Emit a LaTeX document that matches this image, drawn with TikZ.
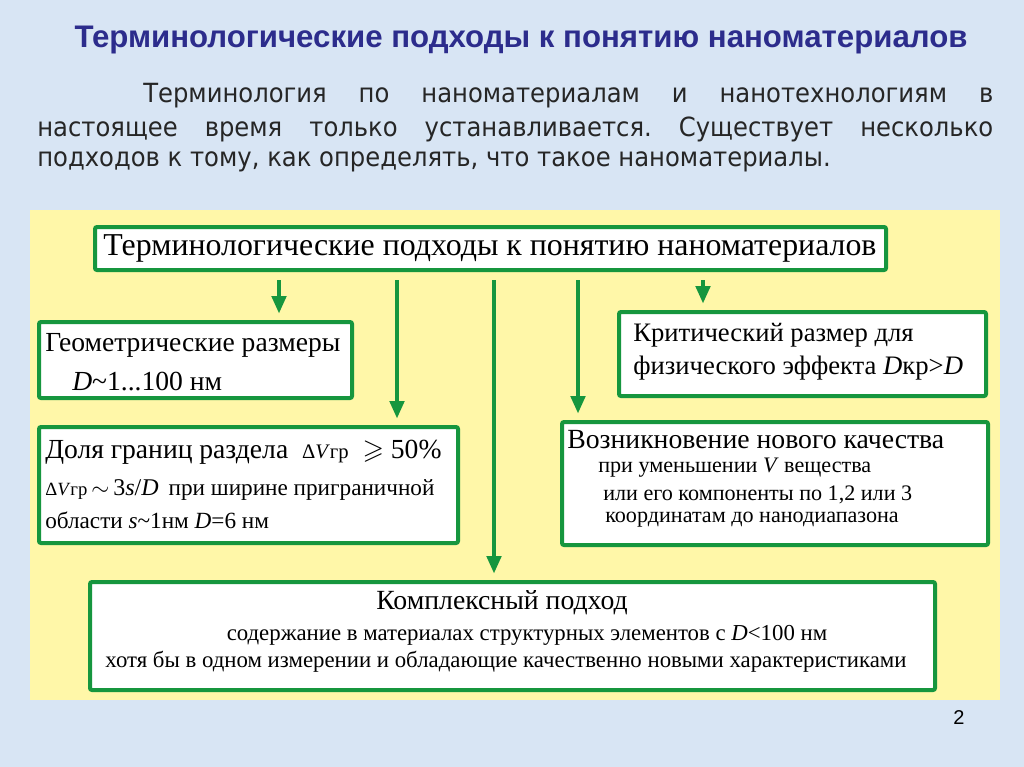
\documentclass[tikz,border=0pt]{standalone}
\usepackage{amssymb}
\usepackage{fontspec}
\setmainfont{Liberation Serif}
\newfontfamily\arialfont{Liberation Sans}
\newfontfamily\parafont[FakeStretch=0.92]{DejaVu Sans}
\usetikzlibrary{arrows.meta}
\definecolor{bgblue}{RGB}{216,229,244}
\definecolor{panel}{RGB}{255,247,168}
\definecolor{bgreen}{RGB}{22,150,62}
\definecolor{titleblue}{RGB}{44,44,140}
\definecolor{paragray}{RGB}{38,38,38}
\newcommand{\fs}[1]{\fontsize{#1}{#1}\selectfont}
\newcommand{\tld}{\textasciitilde}
\tikzset{
  box/.style={draw=bgreen, line width=3pt, fill=white, rounded corners=1.5pt, inner sep=0pt},
  txt/.style={inner sep=0pt, anchor=west, text=black},
  arr/.style={draw=bgreen, line width=2.3pt, -{Triangle[width=11pt,length=13pt]}, shorten <=6pt, shorten >=5pt},
}
\begin{document}
\frenchspacing
\begin{tikzpicture}[x=0.75pt,y=-0.75pt]
\fill[bgblue] (0,0) rectangle (1024,767);
\useasboundingbox (0,0) rectangle (1024,767);
% title and paragraph
\node[inner sep=0pt, text=titleblue] (title) at (521,40) {\arialfont\bfseries\fs{23.4}Терминологические подходы к понятию наноматериалов};
\node[inner sep=0pt, anchor=west, text=paragray] (p1) at (143,96) {\parafont\fs{19.8}\makebox[637.5pt][s]{Терминология по наноматериалам и нанотехнологиям в}};
\node[inner sep=0pt, anchor=west, text=paragray] (p2) at (37,129) {\parafont\fs{19.8}\makebox[717pt][s]{настоящее время только устанавливается. Существует несколько}};
\node[inner sep=0pt, anchor=west, text=paragray] (p3) at (37,162) {\parafont\fs{19.8}подходов к тому, как определять, что такое наноматериалы.};
% panel
\fill[panel] (30,210) rectangle (1000,700);
% boxes
\node[box, minimum width=593.25pt, minimum height=32.25pt] (top) at (490.5,248.5) {};
\node[box, minimum width=234.75pt, minimum height=57pt] (geom) at (195.5,360) {};
\node[box, minimum width=314.25pt, minimum height=87pt] (dolya) at (248.5,485) {};
\node[box, minimum width=275.25pt, minimum height=63pt] (krit) at (802.5,354) {};
\node[box, minimum width=319.5pt, minimum height=92.25pt] (vozn) at (775,483.5) {};
\node[box, minimum width=633.75pt, minimum height=81pt] (compl) at (512.5,636) {};
% texts
\node[inner sep=0pt] (ttop) at (490,248) {\fs{23.9}Терминологические подходы к понятию наноматериалов};
\node[txt] (g1) at (45,345) {\fs{20.7}Геометрические размеры};
\node[txt] (g2) at (72,382) {\fs{20.7}\textit{D}\tld1...100 нм};
\node[txt] (d1) at (45,452) {\fs{20.7}Доля границ раздела \ {\fs{15.5}Δ\textit{V}гр}\ \ $\geqslant$\ 50\%};
\node[txt] (d2) at (45,490) {{\fs{14}Δ\textit{V}гр}{\fs{18}\,$\sim$\,3\textit{s}/\textit{D}}\ \ \ \fs{17.4}при ширине приграничной};
\node[txt] (d3) at (45,520) {\fs{17.4}области \textit{s}\tld1нм \textit{D}=6 нм};
\node[txt] (k1) at (633,335) {\fs{20}Критический размер для};
\node[txt] (k2) at (633,368) {\fs{20}физического эффекта \textit{D}кр>\textit{D}};
\node[txt] (v1) at (567,440) {\fs{20.8}Возникновение нового качества};
\node[txt] (v2) at (598,468) {\fs{16.6}при уменьшении \textit{V} вещества};
\node[txt] (v3) at (603,495) {\fs{16.6}или его компоненты по 1,2 или 3};
\node[txt] (v4) at (605,520) {\fs{16.6}координатам до нанодиапазона};
\node[inner sep=0pt] (c1) at (502,603) {\fs{20.8}Комплексный подход};
\node[inner sep=0pt] (c2) at (527,635) {\fs{17.1}содержание в материалах структурных элементов с \textit{D}<100 нм};
\node[inner sep=0pt] (c3) at (506,662) {\fs{17.1}хотя бы в одном измерении и обладающие качественно новыми характеристиками};
% arrows
\coordinate (x1) at (279,0);
\coordinate (x2) at (397,0);
\coordinate (x3) at (494,0);
\coordinate (x4) at (578,0);
\coordinate (x5) at (703,0);
\draw[arr] (x1 |- top.south) -- (x1 |- geom.north);
\draw[arr] (x2 |- top.south) -- (x2 |- dolya.north);
\draw[arr] (x3 |- top.south) -- (x3 |- compl.north);
\draw[arr] (x4 |- top.south) -- (x4 |- vozn.north);
\draw[arr] (x5 |- top.south) -- (x5 |- krit.north);
% page number
\node[inner sep=0pt] (pg) at (959,718) {\arialfont\fs{15}2};
\end{tikzpicture}
\end{document}
